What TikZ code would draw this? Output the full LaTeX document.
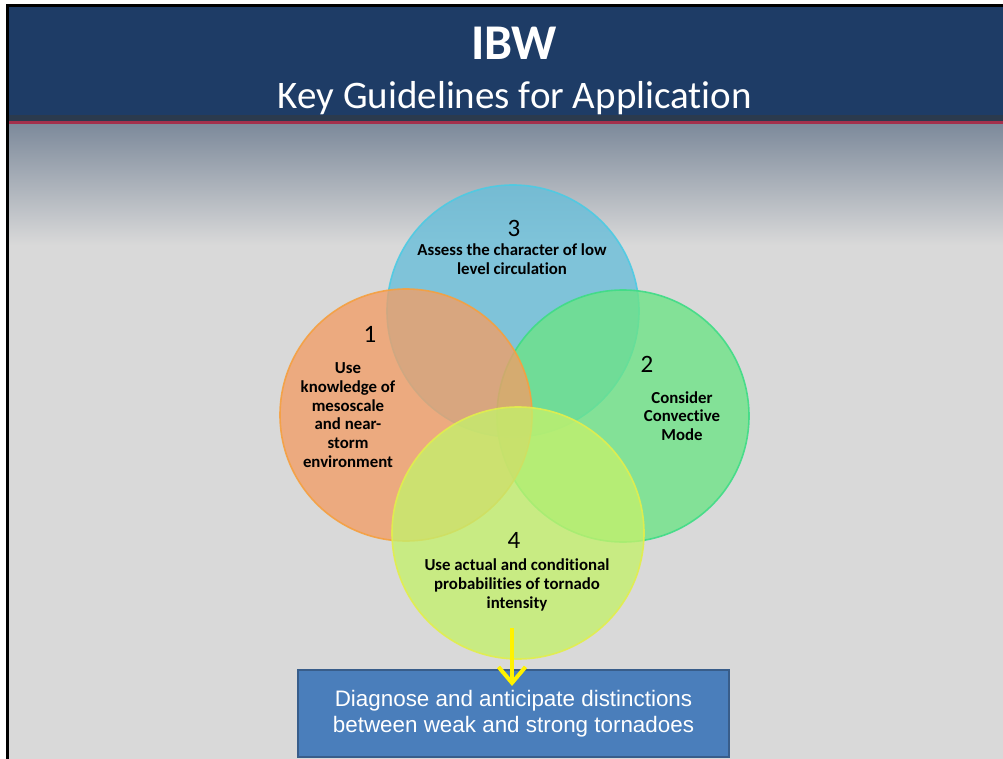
\documentclass[tikz,border=0pt]{standalone}
\usepackage{fontspec}
\setmainfont{Carlito}[Ligatures=NoCommon]
\newfontfamily\boxfont{Liberation Sans}
\usetikzlibrary{arrows.meta}
\definecolor{navy}{HTML}{1E3C66}
\definecolor{navyedge}{HTML}{2B3A4D}
\definecolor{redline}{HTML}{A3304C}
\definecolor{fadetop}{HTML}{7D8A9B}
\definecolor{canvas}{HTML}{D9D9D9}
\definecolor{orangefill}{HTML}{F29E66}
\definecolor{orangerim}{HTML}{F5A040}
\definecolor{bluefill}{HTML}{66BEDA}
\definecolor{bluerim}{HTML}{4DCBE3}
\definecolor{greenfill}{HTML}{6CE485}
\definecolor{greenrim}{HTML}{3FDC86}
\definecolor{limefill}{HTML}{C4F16C}
\definecolor{limerim}{HTML}{E2EE4C}
\definecolor{boxfill}{HTML}{4A7EBB}
\definecolor{boxrim}{HTML}{385D8A}
\tikzset{
  venn/.style args={#1/#2}{circle,minimum size=252pt,inner sep=0pt,fill=#1,draw=#2,line width=1.6pt,fill opacity=0.78,draw opacity=0.9},
  num/.style={font=\fontsize{25}{30}\selectfont},
  lbl/.style={font=\fontsize{16.8}{18.7}\selectfont\bfseries,align=center},
  yarrow/.style={-{Straight Barb[length=16pt,width=27pt,line width=4pt]},yellow,line width=4pt},
}

\begin{document}
\begin{tikzpicture}[x=1pt,y=-1pt]
\useasboundingbox (0,0) rectangle (1003,759);
\fill[white] (0,0) rectangle (1003,759);
\fill[canvas] (8,124) rectangle (1003,759);
\shade[top color=fadetop,bottom color=canvas] (8,124) rectangle (1003,245);
\fill[navy] (8,6) rectangle (1003,115);
\fill[navyedge] (8,115) rectangle (1003,121);
\fill[redline] (8,121) rectangle (1003,124);
\draw[black,line width=3pt] (7.5,759) -- (7.5,5.5) -- (1003,5.5);
\node[anchor=base,white,font=\fontsize{50}{60}\selectfont\bfseries] (ttl) at (514,60) {IBW};
\node[anchor=base,white,font=\fontsize{39}{48}\selectfont] (sub) at (515,109) {Key Guidelines for Application};

\node[venn=bluefill/bluerim] (c3) at (513,311) {};
\node[venn=greenfill/greenrim] (c2) at (623,416) {};
\node[venn=orangefill/orangerim] (c1) at (406,415) {};
\node[venn=limefill/limerim] (c4) at (518,533) {};

\node[num] (n1) at (370,334) {1};
\node[lbl] (t1) at (348,415) {Use\\knowledge of\\mesoscale\\and near-\\storm\\environment};
\node[num] (n3) at (514,228) {3};
\node[lbl] (t3) at (512,259) {Assess the character of low\\level circulation};
\node[num] (n2) at (647,364) {2};
\node[lbl] (t2) at (682,416) {Consider\\Convective\\Mode};
\node[num] (n4) at (514,540) {4};
\node[lbl] (t4) at (517,585) {Use actual and conditional\\probabilities of tornado\\intensity};

\node[fill=boxfill,draw=boxrim,line width=2pt,minimum width=431pt,minimum height=87pt,
  text=white,align=center,font=\boxfont\fontsize{22.4}{26}\selectfont] (goal) at (513.5,713.5)
  {\raisebox{-3pt}{\parbox{420pt}{\centering Diagnose and anticipate distinctions\\between weak and strong tornadoes}}};
\coordinate (a4) at (512,628);
\coordinate (tip) at (512,686);
\draw[yarrow] (a4) -- (tip);
\end{tikzpicture}
\end{document}
